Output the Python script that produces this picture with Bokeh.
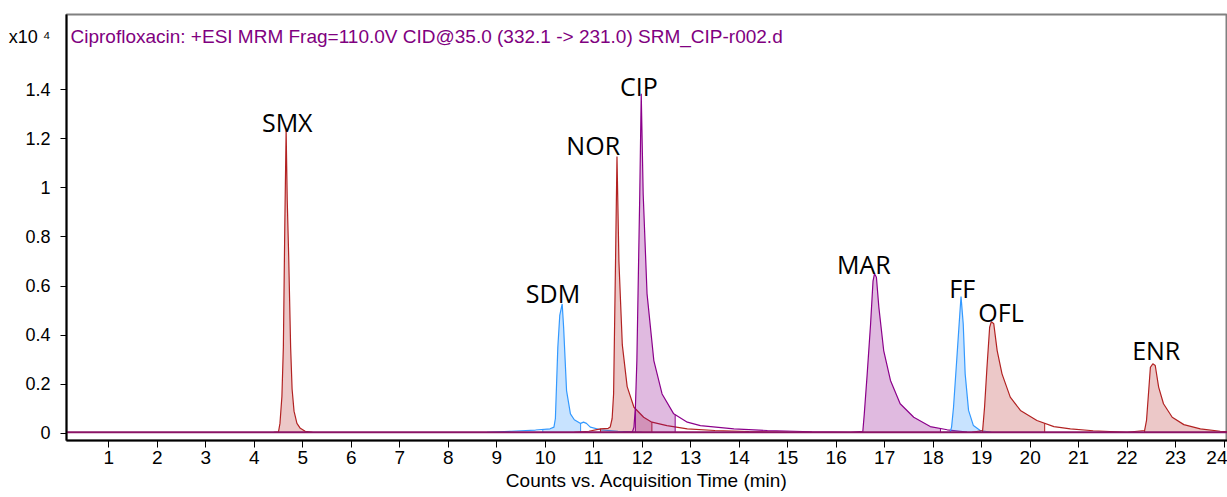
import numpy as np
from bokeh.plotting import figure
from bokeh.models import Range1d, FixedTicker, Label, ColumnDataSource
from bokeh.core.properties import value
from bokeh.embed import file_html
from bokeh.resources import INLINE

# ---------------- data (time in min, counts in x10^4) ----------------
smx_t = [4.40, 4.50, 4.53, 4.57, 4.60, 4.63, 4.657, 4.68, 4.71, 4.75, 4.78, 4.82, 4.88, 4.95, 5.05, 5.20]
smx_y = [0.004, 0.006, 0.04, 0.15, 0.35, 0.85, 1.235, 0.95, 0.72, 0.35, 0.18, 0.09, 0.04, 0.02, 0.008, 0.004]

sdm_t = [8.8, 9.3, 9.8, 10.1, 10.18, 10.21, 10.26, 10.30, 10.35, 10.38, 10.44, 10.52, 10.60, 10.73, 10.79, 10.85, 10.93, 11.14, 11.5, 12.0]
sdm_y = [0.004, 0.008, 0.013, 0.018, 0.025, 0.06, 0.35, 0.48, 0.527, 0.43, 0.174, 0.079, 0.055, 0.04, 0.045, 0.04, 0.025, 0.014, 0.008, 0.004]

nor_t = [10.6, 10.9, 11.14, 11.30, 11.34, 11.38, 11.41, 11.45, 11.48, 11.52, 11.59, 11.69, 11.83, 12.03, 12.2, 12.51, 12.93, 13.5, 14.2, 15.0]
nor_y = [0.004, 0.008, 0.018, 0.02, 0.025, 0.06, 0.16, 0.70, 1.128, 0.70, 0.36, 0.19, 0.106, 0.065, 0.045, 0.031, 0.018, 0.011, 0.007, 0.004]

cip_t = [11.6, 11.80, 11.83, 11.86, 11.89, 11.95, 11.98, 12.02, 12.10, 12.24, 12.41, 12.65, 12.93, 13.2, 13.89, 14.58, 15.5, 16.3]
cip_y = [0.004, 0.006, 0.025, 0.106, 0.296, 0.976, 1.384, 0.976, 0.568, 0.296, 0.16, 0.079, 0.045, 0.031, 0.018, 0.011, 0.006, 0.004]

mar_t = [16.3, 16.55, 16.58, 16.64, 16.71, 16.76, 16.79, 16.83, 16.88, 16.98, 17.12, 17.32, 17.60, 17.94, 18.29, 18.7]
mar_y = [0.004, 0.008, 0.079, 0.242, 0.446, 0.62, 0.65, 0.636, 0.514, 0.337, 0.215, 0.12, 0.065, 0.027, 0.014, 0.005]

ff_t = [18.2, 18.35, 18.38, 18.42, 18.49, 18.55, 18.575, 18.62, 18.66, 18.73, 18.83, 18.97, 19.2]
ff_y = [0.004, 0.005, 0.025, 0.106, 0.31, 0.487, 0.557, 0.446, 0.242, 0.093, 0.031, 0.011, 0.004]

ofl_t = [18.8, 19.02, 19.06, 19.11, 19.165, 19.20, 19.25, 19.32, 19.42, 19.59, 19.80, 20.14, 20.49, 20.83, 21.3, 22.0]
ofl_y = [0.004, 0.011, 0.106, 0.269, 0.432, 0.455, 0.446, 0.337, 0.242, 0.147, 0.093, 0.052, 0.027, 0.018, 0.010, 0.004]

enr_t = [22.0, 22.36, 22.40, 22.44, 22.48, 22.53, 22.58, 22.65, 22.75, 22.93, 23.17, 23.51, 23.92, 24.1]
enr_y = [0.004, 0.011, 0.052, 0.16, 0.269, 0.283, 0.276, 0.188, 0.12, 0.065, 0.035, 0.018, 0.008, 0.006]

# integration windows (shaded region of each peak)
smx_win = [4.50, 5.05]
sdm_win = [9.95, 10.73]
nor_win = [11.14, 12.20]
cip_win = [11.86, 12.68]
mar_win = [16.55, 18.15]
ff_win = [18.35, 18.97]
ofl_win = [19.02, 20.30]
enr_win = [22.36, 24.10]

baseline_t = [0.0, 24.2]
baseline_y = [0.004, 0.004]

peak_names = ["SMX", "SDM", "NOR", "CIP", "MAR", "FF", "OFL", "ENR"]
label_t = [4.68, 10.16, 10.99, 11.93, 16.57, 18.60, 19.40, 22.60]
label_y = [1.234, 0.534, 1.139, 1.380, 0.654, 0.554, 0.457, 0.303]

y_ticks = [0, 0.2, 0.4, 0.6, 0.8, 1.0, 1.2, 1.4]
y_tick_labels = ["0", "0.2", "0.4", "0.6", "0.8", "1", "1.2", "1.4"]
y_scale_label = "x10 \u2074"
y_scale_pos = 1.617
x_ticks = list(range(1, 25))

title_text = "Ciprofloxacin: +ESI MRM Frag=110.0V CID@35.0 (332.1 -> 231.0) SRM_CIP-r002.d"

# ---------------- styles ----------------
RED_L, RED_F = "#B22222", "#B22222"
BLUE_L, BLUE_F = "#3399FF", "#3399FF"
PUR_L, PUR_F = "#8B008B", "#8B008B"
BASE_C = "#8B1466"
AXIS_FONT = "Liberation Sans"

p = figure(width=1227, height=497, output_backend="svg", toolbar_location=None,
           x_range=Range1d(0.128, 24.07), y_range=Range1d(-0.0297, 1.707),
           min_border_left=66, min_border_right=0, min_border_top=14, min_border_bottom=57)
p.grid.visible = False
p.background_fill_color = "white"
p.border_fill_color = "white"
p.outline_line_color = "#808080"
p.outline_line_width = 2

series = [
    (smx_t, smx_y, smx_win, RED_L, RED_F, 0.25),
    (sdm_t, sdm_y, sdm_win, BLUE_L, BLUE_F, 0.27),
    (nor_t, nor_y, nor_win, RED_L, RED_F, 0.25),
    (cip_t, cip_y, cip_win, PUR_L, PUR_F, 0.27),
    (mar_t, mar_y, mar_win, PUR_L, PUR_F, 0.27),
    (ff_t, ff_y, ff_win, BLUE_L, BLUE_F, 0.27),
    (ofl_t, ofl_y, ofl_win, RED_L, RED_F, 0.25),
    (enr_t, enr_y, enr_win, RED_L, RED_F, 0.25),
]

for t, y, win, lc, fc, fa in series:
    t = np.array(t, dtype=float)
    y = np.array(y, dtype=float)
    inner = (t > win[0]) & (t < win[1])
    ft = np.concatenate([[win[0]], t[inner], [win[1]]])
    fy = np.concatenate([[np.interp(win[0], t, y)], y[inner], [np.interp(win[1], t, y)]])
    p.varea(x=ft, y1=np.full_like(ft, baseline_y[0]), y2=fy, fill_color=fc, fill_alpha=fa)
    p.segment(x0=[ft[0], ft[-1]], y0=[baseline_y[0]] * 2, x1=[ft[0], ft[-1]], y1=[fy[0], fy[-1]],
              line_color=lc, line_width=1)
    p.line(t, y, line_color=lc, line_width=1.2)

p.line(baseline_t, baseline_y, line_color=BASE_C, line_width=2.2)

src = ColumnDataSource(dict(x=label_t, y=label_y, text=peak_names))
p.text(x="x", y="y", text="text", source=src, text_font=value("Open Sans"),
       text_font_size="25px", text_align="center", text_baseline="alphabetic",
       text_color="black", y_offset=-9)

p.add_layout(Label(x=0.21, y=1.59, y_offset=7, text=title_text, text_font="Liberation Sans",
                   text_font_size="19px", text_color="#800080", text_baseline="alphabetic"))

# axes
p.xaxis.ticker = FixedTicker(ticks=x_ticks)
p.xaxis.axis_label = "Counts vs. Acquisition Time (min)"
p.xaxis.axis_label_text_font = AXIS_FONT
p.xaxis.axis_label_text_font_size = "19px"
p.xaxis.axis_label_text_font_style = "normal"
p.xaxis.axis_label_text_color = "black"
p.xaxis.axis_label_standoff = 3
p.xaxis.major_label_text_font = AXIS_FONT
p.xaxis.major_label_text_font_size = "19px"
p.xaxis.major_label_text_color = "black"
p.xaxis.major_label_standoff = 3
p.xaxis.major_tick_in = 0
p.xaxis.major_tick_out = 7
p.xaxis.minor_tick_line_color = None
p.xaxis.axis_line_color = "black"
p.xaxis.axis_line_width = 2
p.xaxis.major_tick_line_color = "black"

# y axis: labels on major ticks (incl. the x10^4 scale label), marks drawn as minor ticks
p.yaxis.ticker = FixedTicker(ticks=y_ticks + [y_scale_pos], minor_ticks=y_ticks)
overrides = {t: s for t, s in zip(y_ticks, y_tick_labels)}
overrides[y_scale_pos] = y_scale_label
p.yaxis.major_label_overrides = overrides
p.yaxis.major_label_text_font = AXIS_FONT
p.yaxis.major_label_text_font_size = "18px"
p.yaxis.major_label_text_color = "black"
p.yaxis.major_label_standoff = 10
p.yaxis.major_tick_in = 0
p.yaxis.major_tick_out = 0
p.yaxis.major_tick_line_color = None
p.yaxis.minor_tick_in = 0
p.yaxis.minor_tick_out = 6
p.yaxis.minor_tick_line_color = "black"
p.yaxis.minor_tick_line_width = 1
p.yaxis.axis_line_color = "black"
p.yaxis.axis_line_width = 2

open("out.html", "w").write(file_html(p, INLINE))
